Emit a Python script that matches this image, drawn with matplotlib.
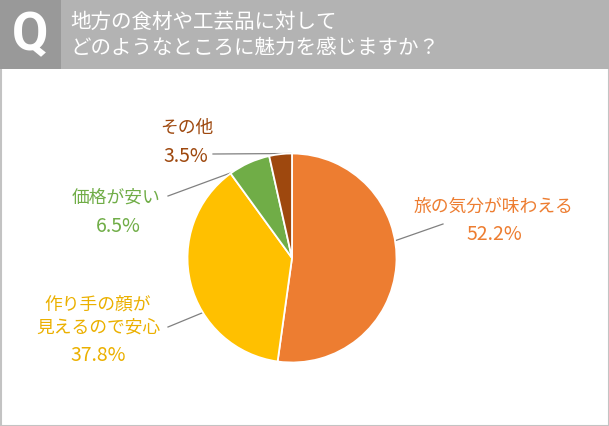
import matplotlib.pyplot as plt
from matplotlib.patches import Rectangle
import numpy as np

plt.rcParams['font.family'] = ['Noto Sans CJK JP', 'DejaVu Sans']

title_lines = ["地方の食材や工芸品に対して", "どのようなところに魅力を感じますか？"]
labels = ["旅の気分が味わえる", "作り手の顔が\n見えるので安心", "価格が安い", "その他"]
values = [52.2, 37.8, 6.5, 3.5]
colors = ["#ed7d31", "#ffc000", "#70ad47", "#9e480e"]
text_colors = ["#ed7d31", "#ebb000", "#70ad47", "#9e480e"]

W, H = 609, 427
CX, CY, R = 292, 259, 104.5

fig = plt.figure(figsize=(W / 100, H / 100), dpi=100)

# background / header, in pixel coordinates
bg = fig.add_axes([0, 0, 1, 1])
bg.set_xlim(0, W)
bg.set_ylim(H, 0)
bg.axis("off")
bg.add_patch(Rectangle((0.5, 0.5), W - 1, H - 1, facecolor="white", edgecolor="#c3c3c3", lw=1.5))
bg.add_patch(Rectangle((0, 0), W, 70, facecolor="#b3b3b3", edgecolor="none"))
bg.add_patch(Rectangle((0, 0), 61, 70, facecolor="#999999", edgecolor="none"))
bg.text(30.5, 36, "Q", color="white", fontsize=38, fontweight="bold", family="Roboto",
        ha="center", va="center")
bg.text(70, 22, title_lines[0], color="white", fontsize=14.8, ha="left", va="center")
bg.text(70, 47.5, title_lines[1], color="white", fontsize=14.8, ha="left", va="center")

# pie
ax = fig.add_axes([(CX - R) / W, (H - CY - R) / H, 2 * R / W, 2 * R / H])
ax.pie(values, colors=colors, startangle=90, counterclock=False,
       wedgeprops=dict(edgecolor="white", linewidth=1.3))
ax.set_xlim(-1, 1)
ax.set_ylim(-1, 1)
ax.axis("off")


def px(x, y):
    return (x - CX) / R, (CY - y) / R


# label layout: name centre, percent centre, leader start, leader angle on the pie
name_pos = [(493, 207), (98, 316), (116, 198), (187, 128)]
pct_pos = [(494, 235), (98, 356), (118, 226), (186, 156)]
line_start = [(443, 225), (168, 328), (168, 197), (213, 155)]
line_angle = [9.5, 211.5, 125, 90.5]

for i, lab in enumerate(labels):
    nx, ny = px(*name_pos[i])
    ax.text(nx, ny, lab, color=text_colors[i], fontsize=12.8, ha="center", va="center",
            linespacing=1.3, clip_on=False)
    qx, qy = px(*pct_pos[i])
    ax.text(qx, qy, f"{values[i]:.1f}%", color=text_colors[i], fontsize=14,
            ha="center", va="center", clip_on=False)
    sx, sy = px(*line_start[i])
    a = np.deg2rad(line_angle[i])
    ax.plot([sx, np.cos(a)], [sy, np.sin(a)], color="#808080", lw=0.9, clip_on=False,
            zorder=0.5)

fig.savefig("out.png", dpi=100)
